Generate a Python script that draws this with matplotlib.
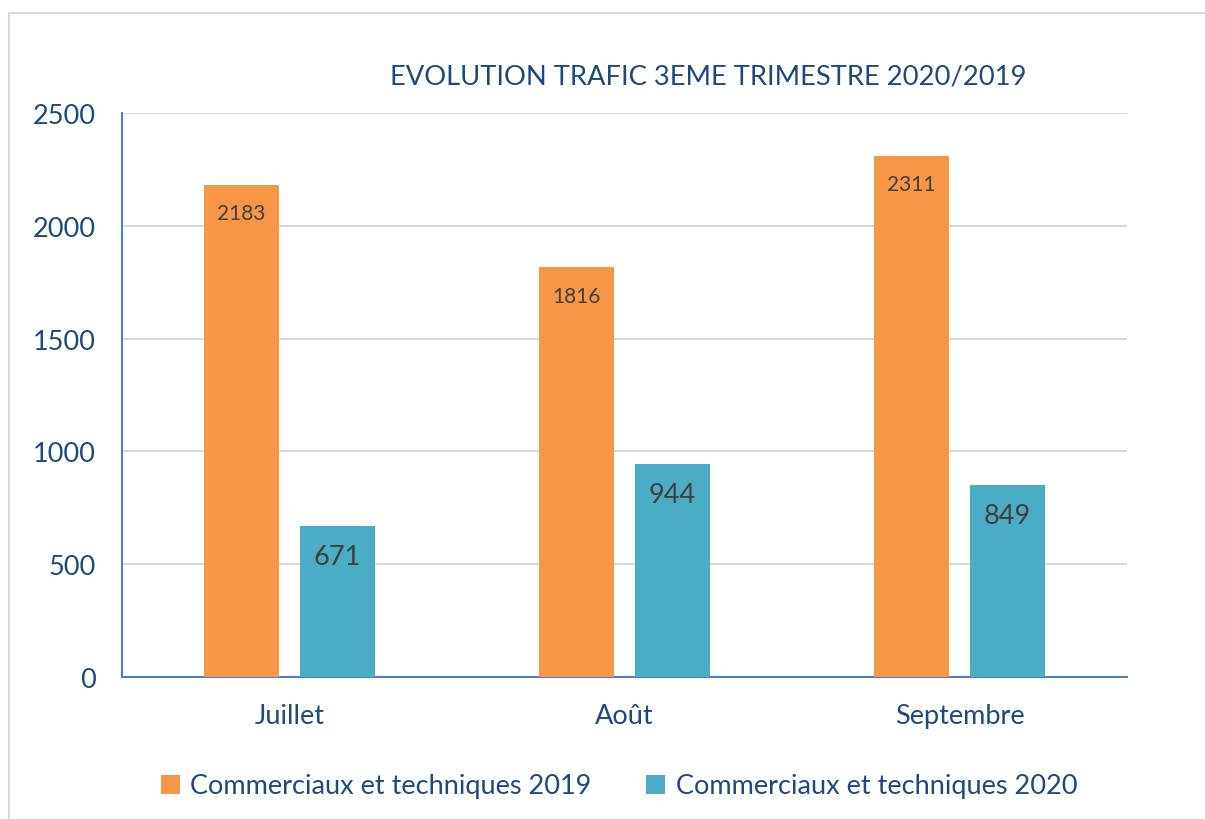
import matplotlib.pyplot as plt
import numpy as np
from matplotlib.patches import Rectangle

months = ['Juillet', 'Août', 'Septembre']
series_names = ['Commerciaux et techniques 2019', 'Commerciaux et techniques 2020']
vals_2019 = [2183, 1816, 2311]
vals_2020 = [671, 944, 849]

plt.rcParams['font.family'] = ['Lato', 'DejaVu Sans']
txt = '#1F497D'
orange = '#F79646'
teal = '#4BACC6'

fig = plt.figure(figsize=(12.05, 8.2), dpi=100)
# outer chart frame
fig.patches.append(Rectangle((9 / 1205, -0.01), 1.1, (820 - 14) / 820 + 0.01,
                             transform=fig.transFigure, fill=False,
                             edgecolor='#D9D9D9', linewidth=1.5))

ax = fig.add_axes([122 / 1205, 1 - 678 / 820, (1127 - 122) / 1205, (678 - 114) / 820])
x = np.arange(len(months))
w = 0.224
b1 = ax.bar(x - 0.143, vals_2019, w, color=orange, label=series_names[0], zorder=3)
b2 = ax.bar(x + 0.142, vals_2020, w, color=teal, label=series_names[1], zorder=3)

for r, v in zip(b1, vals_2019):
    ax.text(r.get_x() + r.get_width() / 2, v - 125, str(v), ha='center', va='center',
            fontsize=15, color='#404040', zorder=4)
for r, v in zip(b2, vals_2020):
    ax.text(r.get_x() + r.get_width() / 2, v - 135, str(v), ha='center', va='center',
            fontsize=19.5, color='#404040', zorder=4)

ax.set_xlim(-0.5, 2.5)
ax.set_ylim(0, 2500)
ax.set_yticks(range(0, 2501, 500))
ax.set_xticks(x)
ax.set_xticklabels(months)
ax.yaxis.grid(True, color='#D9D9D9', linewidth=1.5, zorder=0)
ax.tick_params(axis='both', length=0, labelsize=19.5, labelcolor=txt)
ax.tick_params(axis='x', pad=19)
ax.tick_params(axis='y', pad=19)
for s in ['top', 'right']:
    ax.spines[s].set_visible(False)
for s in ['left', 'bottom']:
    ax.spines[s].set_color('#4F81BD')
    ax.spines[s].set_linewidth(1.5)

fig.text(708 / 1205, 1 - 77 / 820, 'EVOLUTION TRAFIC 3EME TRIMESTRE 2020/2019',
         ha='center', va='center', fontsize=19.7, color=txt)

fig.legend(loc='center', bbox_to_anchor=(619 / 1205, 1 - 787 / 820), ncol=2,
           frameon=False, fontsize=19.5, labelcolor=txt, handlelength=0.7,
           handleheight=0.7, handletextpad=0.4, columnspacing=2.0)

fig.savefig('out.png', dpi=100)
